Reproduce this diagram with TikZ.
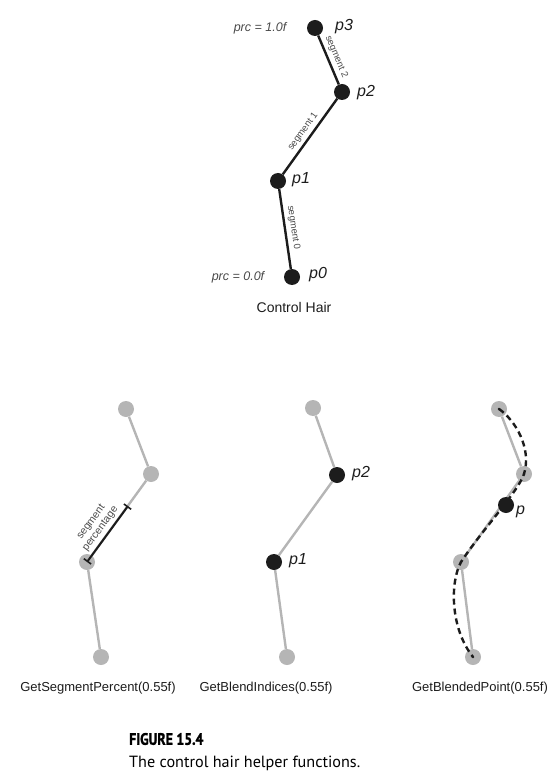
\documentclass[tikz,border=0pt]{standalone}
\usepackage{fontspec}
\setmainfont{Liberation Sans}
\newfontfamily\capfont{PT Sans}
\newfontfamily\capboldfont[FakeStretch=0.84,FakeBold=1.6]{PT Sans Bold}
\usetikzlibrary{arrows.meta}
\definecolor{dotblack}{HTML}{1C1C1C}
\definecolor{dotgray}{HTML}{B5B5B5}
\definecolor{labgray}{HTML}{4A4A4A}
\tikzset{
  bdot/.style={circle,fill=dotblack,inner sep=0pt,minimum size=16pt},
  gdot/.style={circle,fill=dotgray,inner sep=0pt,minimum size=16pt},
  tdot/.style={circle,fill=dotblack,inner sep=0pt,minimum size=2.6pt},
  bline/.style={draw=dotblack,line width=2.4pt},
  gline/.style={draw=dotgray,line width=2.4pt},
  plab/.style={font=\fontsize{16}{18}\selectfont\itshape,text=dotblack,anchor=west,inner sep=0pt},
  prclab/.style={font=\fontsize{12.5}{14}\selectfont\itshape,text=labgray,inner sep=0pt},
  seglab/.style={font=\fontsize{9.5}{10.5}\selectfont,text=labgray,midway,sloped,above,inner sep=3pt},
  funclab/.style={font=\fontsize{13}{15}\selectfont,text=dotblack,inner sep=0pt},
}
\begin{document}
\begin{tikzpicture}[x=1pt,y=-1pt]
\useasboundingbox (0,0) rectangle (559,775);
% ---------- top: control hair ----------
\node[bdot] (p3) at (315,28) {};
\node[bdot] (p2) at (342,92) {};
\node[bdot] (p1) at (278,181) {};
\node[bdot] (p0) at (292,277) {};
\draw[bline] (p3) -- node[seglab]{segment 2} (p2);
\draw[bline] (p1) -- node[seglab]{segment 1} (p2);
\draw[bline] (p1) -- node[seglab]{segment 0} (p0);
\node[plab] (l3) at (335,27) {p3};
\node[plab] (l2) at (357,93) {p2};
\node[plab] (l1) at (292,180) {p1};
\node[plab] (l0) at (309,275) {p0};
\node[prclab] (prc1) at (260,28) {prc = 1.0f};
\node[prclab] (prc0) at (238,277) {prc = 0.0f};
\node[font=\fontsize{14}{16}\selectfont,text=dotblack] (ch) at (294,307) {Control Hair};
% ---------- bottom left ----------
\node[gdot] (a3) at (126,409) {};
\node[gdot] (a2) at (151,474) {};
\node[gdot] (a1) at (87,562) {};
\node[gdot] (a0) at (101,657) {};
\draw[gline] (a3) -- (a2);
\draw[gline] (a2) -- (a1);
\draw[gline] (a1) -- (a0);
\coordinate (aend) at (128,506);
\draw[draw=dotblack,line width=2pt,{Bar[width=9pt,line width=1.6pt]}-{Bar[width=9pt,line width=1.6pt]}]
  (a1.center) -- node[seglab,align=center,font=\fontsize{10.5}{11.5}\selectfont]{segment\\percentage} (aend);
\node[funclab] (f1) at (98,688) {GetSegmentPercent(0.55f)};
% ---------- bottom middle ----------
\node[gdot] (b3) at (313,408) {};
\node[bdot] (b2) at (337,475) {};
\node[bdot] (b1) at (274,562) {};
\node[gdot] (b0) at (287,657) {};
\draw[gline] (b3) -- (b2);
\draw[gline] (b2) -- (b1);
\draw[gline] (b1) -- (b0);
\node[plab] (bl2) at (352,474) {p2};
\node[plab] (bl1) at (289,561) {p1};
\node[funclab] (f2) at (266,688) {GetBlendIndices(0.55f)};
% ---------- bottom right ----------
\node[gdot] (c3) at (499,409) {};
\node[gdot] (c2) at (524,474) {};
\node[gdot] (c1) at (461,562) {};
\node[gdot] (c0) at (473,657) {};
\draw[gline] (c3) -- (c2);
\draw[gline] (c2) -- (c1);
\draw[gline] (c1) -- (c0);
\node[tdot] (t3) at (c3.center) {};
\node[tdot] (t2) at (c2.center) {};
\node[tdot] (t1) at (c1.center) {};
\node[tdot] (t0) at (c0.center) {};
\draw[draw=dotblack,line width=2.4pt,dash pattern=on 6pt off 4pt]
  (c3.center) .. controls (515,420) and (532,448) .. (524,474)
  .. controls (518,492) and (482,530) .. (461,562)
  .. controls (450,582) and (450,628) .. (473,657);
\node[bdot] (pp) at (506,505) {};
\node[plab] (lp) at (516,512) {p};
\node[funclab] (f3) at (480,688) {GetBlendedPoint(0.55f)};
% ---------- caption ----------
\node[font=\capboldfont\fontsize{16.5}{19}\selectfont,anchor=west,inner sep=0pt] (figno) at (129,739) {FIGURE 15.4};
\node[font=\capfont\fontsize{16.2}{19}\selectfont,anchor=west,inner sep=0pt] (cap) at (129,763) {The control hair helper functions.};
\end{tikzpicture}
\end{document}
